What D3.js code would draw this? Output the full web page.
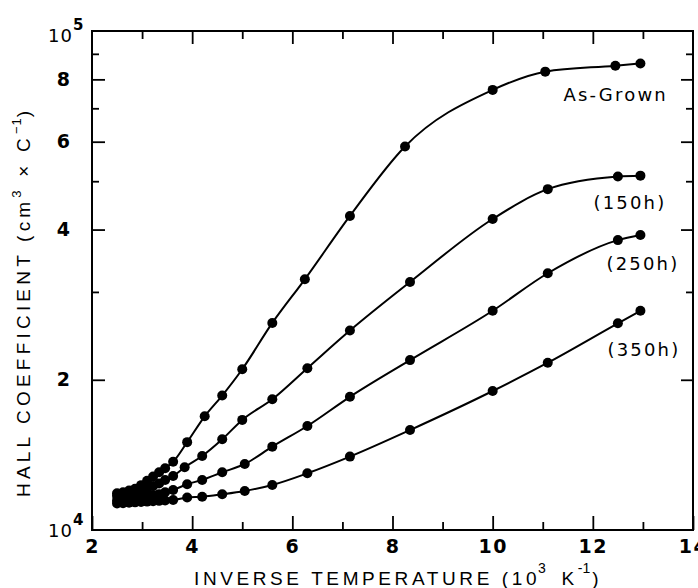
<!DOCTYPE html>
<html><head><meta charset="utf-8">
<script src="https://cdn.jsdelivr.net/npm/d3@7"></script>
<style>
html,body{margin:0;padding:0;background:#fff;}
svg{display:block;}
</style></head>
<body>
<svg id="chart" width="698" height="588"></svg>
<script>
// ---- data (x = inverse temperature, 10^3 K^-1; y = Hall coefficient, cm^3/C) ----
const xAsGrown = [2.5,2.62,2.74,2.86,2.98,3.1,3.22,3.34,3.46,3.62,3.9,4.25,4.6,5.0,5.6,6.25,7.15,8.25,10.0,11.05,12.45,12.95];
const yAsGrown = [11850,11900,12000,12100,12300,12550,12800,13050,13300,13700,15000,16900,18600,21000,26000,31800,42600,58700,76200,82900,85200,86100];

const x150h = [2.5,2.62,2.74,2.86,2.98,3.1,3.22,3.34,3.46,3.62,3.85,4.2,4.6,5.0,5.6,6.3,7.15,8.35,10.0,11.1,12.5,12.95];
const y150h = [11700,11750,11800,11900,12000,12100,12250,12400,12600,12830,13360,14070,15200,16620,18280,21100,25100,31400,42000,48200,51100,51300];

const x250h = [2.5,2.62,2.74,2.86,2.98,3.1,3.22,3.34,3.46,3.62,3.9,4.2,4.6,5.05,5.6,6.3,7.15,8.35,10.0,11.1,12.5,12.95];
const y250h = [11450,11500,11550,11600,11650,11700,11750,11800,11900,12030,12350,12600,13050,13560,14690,16160,18490,21900,27500,32700,38100,39000];

const x350h = [2.5,2.62,2.74,2.86,2.98,3.1,3.22,3.34,3.46,3.62,3.9,4.2,4.6,5.05,5.6,6.3,7.15,8.35,10.0,11.1,12.5,12.95];
const y350h = [11300,11320,11340,11360,11380,11400,11420,11440,11460,11480,11620,11660,11790,11970,12310,12990,14030,15860,18990,21640,25960,27500];

const seriesNames = ["As-Grown","(150h)","(250h)","(350h)"];

const xMajorTicks = [2,4,6,8,10,12,14];
const xTickLabels = ["2","4","6","8","10","12","14"];
const xMinorTicks = [3,5,7,9,11,13];
const yMajorTicks = [20000,40000,60000,80000];
const yTickLabels = ["2","4","6","8"];
const yMinorTicks = [30000,50000,70000,90000];
const yDecadeTicks = [10000,100000];
const yDecadeBase = ["10","10"];
const yDecadeExp = ["4","5"];

const xTitle = "INVERSE TEMPERATURE  (10";
const xTitleUnit = ["3","K","-1",")"];
const yTitle = "HALL COEFFICIENT (cm";

// ---- layout ----
const svg = d3.select("#chart");
const L = 92, R = 693, T = 31, B = 530;
const x = d3.scaleLinear().domain([2,14]).range([L,R]);
const y = d3.scaleLog().domain([1e4,1e5]).range([B,T]);

const tickFont = "'DejaVu Sans', sans-serif";
const titleFont = "'Liberation Sans', Arial, sans-serif";

// frame
svg.append("rect").attr("x",L).attr("y",T).attr("width",R-L).attr("height",B-T)
  .attr("fill","none").attr("stroke","#000").attr("stroke-width",2);

function styleAxis(g){
  g.select(".domain").remove();
  g.selectAll(".tick line").attr("stroke","#000").attr("stroke-width",1.8);
  g.selectAll(".tick text").attr("fill","#000");
}

// bottom axis (inward ticks)
svg.append("g").attr("transform",`translate(0,${B})`)
  .call(d3.axisBottom(x).tickValues(xMajorTicks).tickSize(-14).tickPadding(10)
        .tickFormat((d,i)=>xTickLabels[i]))
  .call(styleAxis)
  .call(g=>g.selectAll(".tick text").attr("font-family",tickFont).attr("font-size",19)
        .attr("letter-spacing",1.5).attr("font-weight","bold"));
svg.append("g").attr("transform",`translate(0,${B})`)
  .call(d3.axisBottom(x).tickValues(xMinorTicks).tickSize(-8).tickFormat(""))
  .call(styleAxis);
// top axis
svg.append("g").attr("transform",`translate(0,${T})`)
  .call(d3.axisTop(x).tickValues(xMajorTicks.filter(d=>d>2&&d<14)).tickSize(-13).tickFormat(""))
  .call(styleAxis);
svg.append("g").attr("transform",`translate(0,${T})`)
  .call(d3.axisTop(x).tickValues(xMinorTicks).tickSize(-8).tickFormat(""))
  .call(styleAxis);
// left axis
svg.append("g").attr("transform",`translate(${L},0)`)
  .call(d3.axisLeft(y).tickValues(yMajorTicks).tickSize(-13).tickPadding(22)
        .tickFormat((d,i)=>yTickLabels[i]))
  .call(styleAxis)
  .call(g=>g.selectAll(".tick text").attr("font-family",tickFont).attr("font-size",19).attr("font-weight","bold"));
svg.append("g").attr("transform",`translate(${L},0)`)
  .call(d3.axisLeft(y).tickValues(yMinorTicks).tickSize(-7).tickFormat(""))
  .call(styleAxis);
// right axis
svg.append("g").attr("transform",`translate(${R},0)`)
  .call(d3.axisRight(y).tickValues(yMajorTicks).tickSize(-12).tickFormat(""))
  .call(styleAxis);
svg.append("g").attr("transform",`translate(${R},0)`)
  .call(d3.axisRight(y).tickValues(yMinorTicks).tickSize(-7).tickFormat(""))
  .call(styleAxis);

// decade labels 10^4, 10^5
yDecadeTicks.forEach((v,i)=>{
  const t = svg.append("text").attr("x",48).attr("y",y(v)+ (i===0?7:11))
    .attr("font-family",tickFont).attr("fill","#000");
  t.append("tspan").attr("font-size",18).attr("letter-spacing",1).text(yDecadeBase[i]);
  t.append("tspan").attr("font-size",15).attr("font-weight","bold").attr("dy",-12).attr("dx",0).text(yDecadeExp[i]);
});

// series
const series = [
  {name:seriesNames[0], xs:xAsGrown, ys:yAsGrown, lab:[-77,38]},
  {name:seriesNames[1], xs:x150h, ys:y150h, lab:[-47,33]},
  {name:seriesNames[2], xs:x250h, ys:y250h, lab:[-34,35]},
  {name:seriesNames[3], xs:x350h, ys:y350h, lab:[-33,45]}
];
const line = d3.line().x(d=>x(d[0])).y(d=>y(d[1])).curve(d3.curveMonotoneX);

series.forEach(s=>{
  const pts = s.xs.map((v,i)=>[v,s.ys[i]]);
  svg.append("path").datum(pts).attr("d",line).attr("fill","none")
    .attr("stroke","#000").attr("stroke-width",2);
  svg.append("g").selectAll("circle").data(pts).join("circle")
    .attr("cx",d=>x(d[0])).attr("cy",d=>y(d[1])).attr("r",5).attr("fill","#000");
  const last = pts[pts.length-1];
  svg.append("text").attr("x",x(last[0])+s.lab[0]).attr("y",y(last[1])+s.lab[1])
    .attr("font-family",tickFont).attr("font-size",18).attr("letter-spacing",2.2)
    .attr("fill","#000").text(s.name);
});

// axis titles
const xt = svg.append("text").attr("x",194).attr("y",585)
  .attr("font-family",titleFont).attr("font-size",19)
  .attr("letter-spacing",3.6).attr("fill","#000");
xt.append("tspan").text(xTitle);
xt.append("tspan").attr("font-size",14).attr("dy",-12).attr("dx",-2).text(xTitleUnit[0]);
xt.append("tspan").attr("dy",12).attr("dx",12).text(xTitleUnit[1]);
xt.append("tspan").attr("font-size",14).attr("dy",-12).attr("letter-spacing",0).text(xTitleUnit[2]);
xt.append("tspan").attr("dy",12).attr("dx",2).text(xTitleUnit[3]);

const yt = svg.append("text").attr("transform","translate(30,497) rotate(-90)")
  .attr("font-family",titleFont).attr("font-size",19)
  .attr("letter-spacing",4.2).attr("fill","#000");
yt.append("tspan").text(yTitle);
yt.append("tspan").attr("font-size",13).attr("dy",-9).text("3");
yt.append("tspan").attr("dy",9).text(" × C");
yt.append("tspan").attr("font-size",13).attr("dy",-9).attr("letter-spacing",1).text("−1");
yt.append("tspan").attr("dy",9).text(")");
</script>
</body></html>
